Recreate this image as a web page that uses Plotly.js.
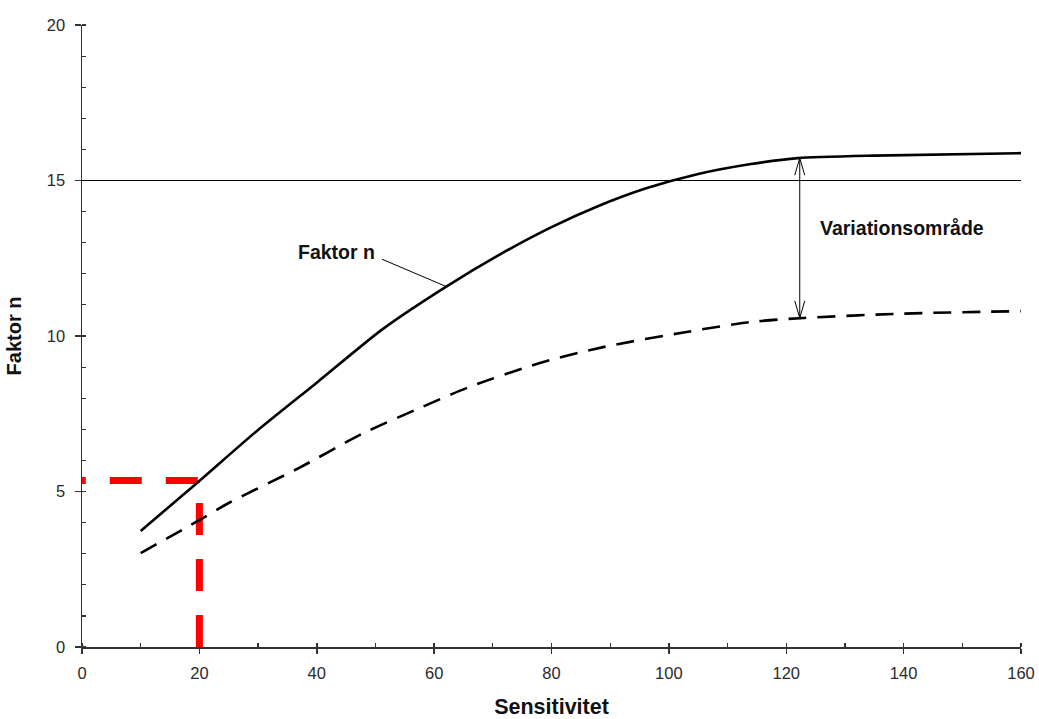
<!DOCTYPE html>
<html>
<head>
<meta charset="utf-8">
<script src="https://cdn.plot.ly/plotly-3.0.1.min.js"></script>
<style>html,body{margin:0;padding:0;background:#fff;}#chart{width:1039px;height:719px;}</style>
</head>
<body>
<div id="chart"></div>
<script>
// Data
var solidX = [10, 20, 30, 40, 51, 62, 71, 80, 88, 96, 105, 114, 122, 135, 160];
var solidY = [3.73, 5.34, 6.98, 8.5, 10.19, 11.58, 12.6, 13.5, 14.18, 14.74, 15.21, 15.53, 15.72, 15.8, 15.88];
var dashX = [10, 20, 25, 37, 48, 58, 66, 78, 89, 103, 114, 123, 140, 160];
var dashY = [3.02, 4.08, 4.63, 5.76, 6.88, 7.72, 8.36, 9.13, 9.65, 10.13, 10.45, 10.58, 10.72, 10.8];
var redX = [20, 20, 0];
var redY = [0, 5.35, 5.35];
var limitY = 15;
var arrowX = 122.3, arrowTop = 15.72, arrowBottom = 10.58;
var labelFaktor = {text: 'Faktor n', x: 43.3, y: 12.7, lineFrom: [51.1, 12.47], lineTo: [62.2, 11.58]};
var labelVar = {text: 'Variationsområde', x: 139.7, y: 13.47};
var xTitle = 'Sensitivitet', yTitle = 'Faktor n';

var FONT = 'Liberation Sans, Arial, sans-serif';

var traces = [
  {x: redX, y: redY, mode: 'lines', line: {color: '#ff0000', width: 7, dash: '32px,24px'}, hoverinfo: 'skip'},
  {x: solidX, y: solidY, mode: 'lines', line: {color: '#000', width: 2.6, shape: 'spline', smoothing: 0.6}},
  {x: dashX, y: dashY, mode: 'lines', line: {color: '#000', width: 2.6, shape: 'spline', smoothing: 0.8, dash: '18px,11px'}}
];

var hw = 0.85, hh = 0.55;
var shapes = [
  {type: 'line', xref: 'paper', yref: 'y', x0: 0, x1: 1, y0: limitY, y1: limitY, line: {color: '#000', width: 1}},
  {type: 'line', xref: 'x', yref: 'y', x0: arrowX, x1: arrowX, y0: arrowBottom, y1: arrowTop, line: {color: '#000', width: 1}},
  {type: 'path', xref: 'x', yref: 'y', path: 'M' + (arrowX - hw) + ',' + (arrowTop - hh) + ' L' + arrowX + ',' + arrowTop + ' L' + (arrowX + hw) + ',' + (arrowTop - hh), line: {color: '#000', width: 1}},
  {type: 'path', xref: 'x', yref: 'y', path: 'M' + (arrowX - hw) + ',' + (arrowBottom + hh) + ' L' + arrowX + ',' + arrowBottom + ' L' + (arrowX + hw) + ',' + (arrowBottom + hh), line: {color: '#000', width: 1}},
  {type: 'line', xref: 'x', yref: 'y', x0: labelFaktor.lineFrom[0], y0: labelFaktor.lineFrom[1], x1: labelFaktor.lineTo[0], y1: labelFaktor.lineTo[1], line: {color: '#000', width: 1}}
];

var annotations = [
  {x: labelFaktor.x, y: labelFaktor.y, xref: 'x', yref: 'y', text: '<b>' + labelFaktor.text + '</b>', showarrow: false, font: {family: FONT, size: 19.5, color: '#111'}},
  {x: labelVar.x, y: labelVar.y, xref: 'x', yref: 'y', text: '<b>' + labelVar.text + '</b>', showarrow: false, font: {family: FONT, size: 19.5, color: '#111'}}
];

var layout = {
  width: 1039, height: 719,
  margin: {l: 82, r: 18, t: 25, b: 72, pad: 0},
  paper_bgcolor: '#fff', plot_bgcolor: '#fff',
  showlegend: false,
  font: {family: FONT, size: 16, color: '#333'},
  xaxis: {
    range: [0, 160], dtick: 20, tick0: 0, showgrid: false, zeroline: false,
    showline: true, linecolor: '#333', linewidth: 1.5,
    ticks: 'outside', ticklen: 5, tickwidth: 1.5, tickcolor: '#333',
    ticklabelstandoff: 6,
    minor: {dtick: 10, ticks: 'inside', ticklen: 4, tickwidth: 1.2, tickcolor: '#333', showgrid: false},
    tickfont: {family: FONT, size: 16.5, color: '#2a2a2a'},
    title: {text: '<b>' + xTitle + '</b>', font: {family: FONT, size: 21.5, color: '#111'}, standoff: 20}
  },
  xaxis2: {
    overlaying: 'x', anchor: 'y', side: 'bottom', range: [0, 160], dtick: 20, tick0: 0,
    showgrid: false, zeroline: false, showline: false, showticklabels: false,
    ticks: 'inside', ticklen: 4, tickwidth: 1.5, tickcolor: '#333'
  },
  yaxis: {
    range: [0, 20], dtick: 5, tick0: 0, showgrid: false, zeroline: false,
    showline: true, linecolor: '#333', linewidth: 1.5,
    ticks: 'outside', ticklen: 6, tickwidth: 1.5, tickcolor: '#333',
    ticklabelstandoff: 6,
    minor: {dtick: 1, ticks: 'inside', ticklen: 4, tickwidth: 1.2, tickcolor: '#333', showgrid: false},
    tickfont: {family: FONT, size: 16.5, color: '#2a2a2a'},
    title: {text: '<b>' + yTitle + '</b>', font: {family: FONT, size: 20, color: '#111'}, standoff: 20}
  },
  shapes: shapes,
  annotations: annotations
};

traces.push({x: [0], y: [0], xaxis: 'x2', yaxis: 'y', mode: 'markers', marker: {opacity: 0}, hoverinfo: 'skip'});

Plotly.newPlot('chart', traces, layout, {displayModeBar: false, staticPlot: true});
</script>
</body>
</html>
